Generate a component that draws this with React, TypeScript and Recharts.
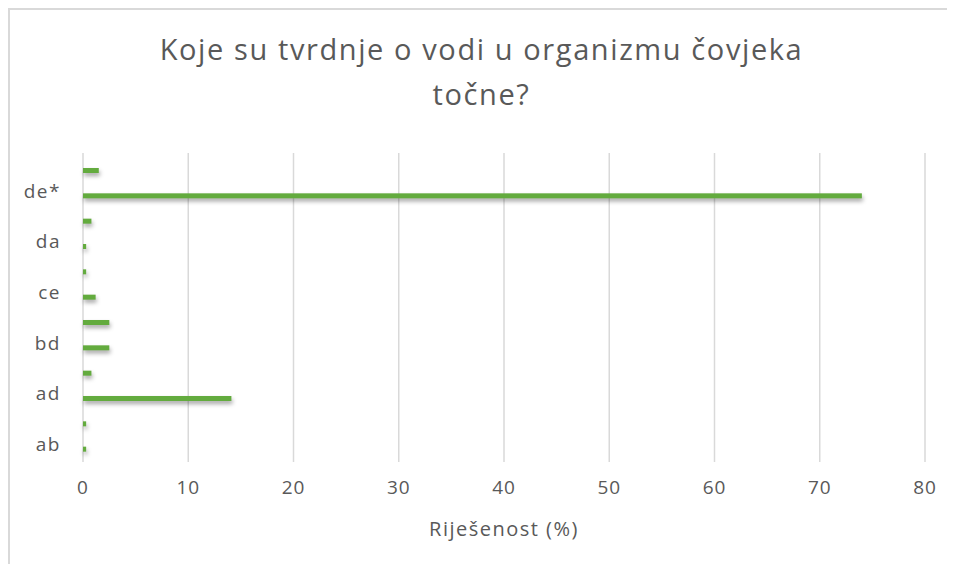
import { Bar, BarChart, CartesianGrid, Label, XAxis, YAxis } from 'recharts';

// Categories bottom-to-top (Excel order); only every other label is shown.
const CATEGORIES = ['ab', 'ac', 'ad', 'bc', 'bd', 'cd', 'ce', 'd', 'da', 'db', 'de*', 'e'];
const SOLVED = [0.3, 0.3, 14.1, 0.8, 2.5, 2.5, 1.2, 0.3, 0.3, 0.8, 74.0, 1.5];
const X_TICKS = [0, 10, 20, 30, 40, 50, 60, 70, 80];

const TITLE_LINES = ['Koje su tvrdnje o vodi u organizmu čovjeka', 'točne?'];
const X_LABEL = 'Riješenost (%)';

const FONT = '"Open Sans", sans-serif';
const TEXT = '#595959';
const GREEN = '#63ab3e';
const BORDER = '#d9d9d9';

const data = CATEGORIES.map((c, i) => ({ name: c, value: SOLVED[i] }));

function CatTick(props: any) {
  const { x, y, payload } = props;
  return (
    <text
      x={x}
      y={y - 5}
      dy="0.35em"
      textAnchor="end"
      fill={TEXT}
      fontSize={19}
      letterSpacing={1.5}
      fontFamily={FONT}
    >
      {payload.value}
    </text>
  );
}

function ShadowBar(props: any) {
  const { x, y, width, height } = props;
  if (!width || width <= 0) return null;
  return (
    <rect
      x={x}
      y={y}
      width={width}
      height={height}
      fill={GREEN}
      style={{ filter: 'drop-shadow(1px 3px 2px rgba(0,0,0,0.35))' }}
    />
  );
}

export default function App() {
  return (
    // negative margins keep the page from growing past the window
    <div
      style={{
        position: 'relative',
        width: 947,
        height: 564,
        marginBottom: -8,
        marginRight: -8,
        background: '#fff',
        overflow: 'hidden',
      }}
    >
      <div
        style={{
          position: 'absolute',
          left: 0,
          top: 18,
          width: 947,
          textAlign: 'center',
          fontFamily: FONT,
          fontSize: 29,
          letterSpacing: 1.6,
          lineHeight: '45px',
          color: TEXT,
        }}
      >
        {TITLE_LINES.map((t) => (
          <div key={t}>{t}</div>
        ))}
      </div>
      <div style={{ position: 'absolute', left: 0, top: 0 }}>
        <BarChart
          width={947}
          height={564}
          data={data}
          layout="vertical"
          accessibilityLayer={false}
          margin={{ top: 145, right: 30, bottom: 30, left: 15 }}
        >
          <CartesianGrid horizontal={false} stroke={BORDER} strokeWidth={1.5} />
          <XAxis
            type="number"
            domain={[0, 80]}
            ticks={X_TICKS}
            axisLine={false}
            tickLine={false}
            tickMargin={13}
            height={80}
            tick={{ fill: TEXT, fontSize: 19, fontFamily: FONT, letterSpacing: 1 }}
          >
            <Label
              value={X_LABEL}
              position="insideBottom"
              offset={6}
              fill={TEXT}
              fontSize={20}
              letterSpacing={1.5}
              fontFamily={FONT}
            />
          </XAxis>
          <YAxis
            type="category"
            dataKey="name"
            reversed
            interval={1}
            width={60}
            axisLine={false}
            tickLine={false}
            tickMargin={16}
            padding={{ top: 5, bottom: 0 }}
            tick={<CatTick />}
          />
          <Bar dataKey="value" barSize={5} fill={GREEN} shape={<ShadowBar />} isAnimationActive={false} />
        </BarChart>
      </div>
      {/* chart frame: only the top and left edges are visible in the source */}
      <div style={{ position: 'absolute', left: 0, top: 0, width: 947, height: 2, background: BORDER }} />
      <div style={{ position: 'absolute', left: 0, top: 0, width: 2, height: 564, background: BORDER }} />
    </div>
  );
}
